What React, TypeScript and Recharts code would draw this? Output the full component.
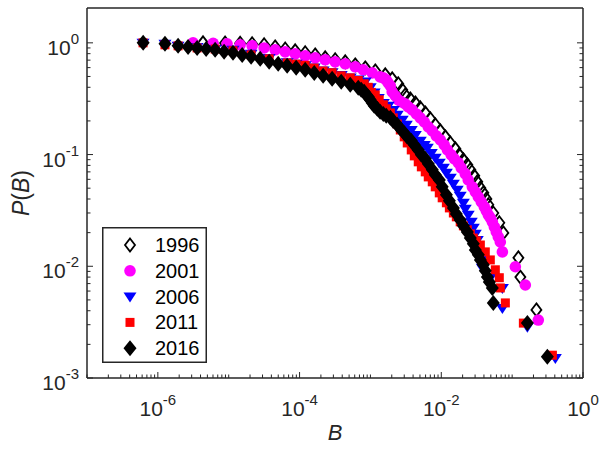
import { ScatterChart, Scatter, XAxis, YAxis, Legend, Label } from 'recharts';

// Complementary cumulative distribution P(B) per year
const B_1996 = [4.34e-6, 8.89e-6, 1.45e-5, 2.14e-5, 3.16e-5, 4.52e-5, 6.27e-5, 8.67e-5, 1.2e-4, 1.66e-4, 2.3e-4, 3.18e-4, 4.41e-4, 6.1e-4, 8.45e-4, 1.17e-3, 1.62e-3, 2.03e-3, 2.47e-3, 2.81e-3, 3.1e-3, 3.65e-3, 4.3e-3, 5.05e-3, 5.94e-3, 7.0e-3, 8.22e-3, 9.68e-3, 1.14e-2, 1.34e-2, 1.58e-2, 1.79e-2, 2.05e-2, 2.33e-2, 2.57e-2, 2.92e-2, 3.22e-2, 3.56e-2, 3.92e-2, 4.33e-2, 4.61e-2, 5.42e-2, 6.59e-2, 7.52e-2, 0.1225, 0.1306, 0.22];
const P_1996 = [1.0, 0.995, 0.99, 0.98, 0.96, 0.92, 0.88, 0.848, 0.814, 0.78, 0.734, 0.705, 0.676, 0.635, 0.597, 0.561, 0.517, 0.476, 0.43, 0.38, 0.342, 0.315, 0.29, 0.262, 0.236, 0.209, 0.185, 0.163, 0.144, 0.127, 0.1125, 0.0994, 0.0897, 0.0809, 0.073, 0.0645, 0.057, 0.0503, 0.0454, 0.0401, 0.0355, 0.03, 0.0245, 0.0199, 0.0119, 0.008, 0.00407];

const B_2001 = [3.14e-6, 6.03e-6, 9.48e-6, 1.45e-5, 2.14e-5, 3.16e-5, 4.52e-5, 6.27e-5, 8.67e-5, 1.2e-4, 1.66e-4, 2.3e-4, 3.18e-4, 4.41e-4, 6.1e-4, 7.91e-4, 1.06e-3, 1.37e-3, 1.52e-3, 1.67e-3, 1.78e-3, 1.91e-3, 2.03e-3, 2.24e-3, 2.47e-3, 2.72e-3, 3.1e-3, 3.42e-3, 3.89e-3, 4.44e-3, 5.05e-3, 5.75e-3, 6.55e-3, 7.46e-3, 8.49e-3, 9.68e-3, 1.1e-2, 1.22e-2, 1.38e-2, 1.53e-2, 1.74e-2, 1.91e-2, 2.18e-2, 2.4e-2, 2.74e-2, 3.02e-2, 3.33e-2, 3.67e-2, 4.05e-2, 4.33e-2, 4.61e-2, 4.92e-2, 5.25e-2, 5.61e-2, 5.98e-2, 6.38e-2, 6.81e-2, 7.28e-2, 0.111, 0.1535, 0.234];
const P_2001 = [1.0, 0.99, 0.98, 0.96, 0.94, 0.9, 0.866, 0.83, 0.797, 0.765, 0.734, 0.705, 0.676, 0.649, 0.61, 0.573, 0.538, 0.496, 0.486, 0.467, 0.438, 0.412, 0.364, 0.336, 0.309, 0.296, 0.284, 0.267, 0.251, 0.231, 0.213, 0.196, 0.177, 0.163, 0.147, 0.1355, 0.122, 0.11, 0.0994, 0.0916, 0.0843, 0.076, 0.0672, 0.0593, 0.0514, 0.0464, 0.0418, 0.0377, 0.034, 0.0313, 0.0289, 0.0271, 0.025, 0.0225, 0.0203, 0.0183, 0.0165, 0.01345, 0.0099, 0.0068, 0.0033];

const B_2006 = [6.18e-7, 1.26e-6, 1.93e-6, 3.58e-6, 6.43e-6, 1.15e-5, 2.07e-5, 3.72e-5, 6.68e-5, 8.95e-5, 1.2e-4, 1.61e-4, 2.15e-4, 2.88e-4, 3.87e-4, 5.19e-4, 6.73e-4, 8.45e-4, 9.93e-4, 1.13e-3, 1.29e-3, 1.52e-3, 1.78e-3, 2.1e-3, 2.39e-3, 2.81e-3, 3.21e-3, 3.77e-3, 4.3e-3, 5.05e-3, 5.75e-3, 6.34e-3, 7.23e-3, 8.22e-3, 9.37e-3, 1.07e-2, 1.18e-2, 1.34e-2, 1.48e-2, 1.68e-2, 1.85e-2, 2.05e-2, 2.18e-2, 2.4e-2, 2.65e-2, 2.83e-2, 3.02e-2, 3.22e-2, 3.56e-2, 3.67e-2, 3.79e-2, 4.92e-2, 7.28e-2, 7.28e-2, 0.164, 0.407];
const P_2006 = [1.0, 0.98, 0.94, 0.92, 0.88, 0.866, 0.8, 0.73, 0.67, 0.65, 0.63, 0.6, 0.565, 0.545, 0.515, 0.49, 0.47, 0.45, 0.4, 0.36, 0.32, 0.29, 0.273, 0.251, 0.227, 0.205, 0.185, 0.166, 0.15, 0.133, 0.122, 0.115, 0.1035, 0.0934, 0.0843, 0.076, 0.0686, 0.0619, 0.0547, 0.0483, 0.0427, 0.037, 0.0327, 0.0289, 0.025, 0.0221, 0.0195, 0.0172, 0.01345, 0.0114, 0.0097, 0.0079, 0.0064, 0.00424, 0.00287, 0.00151];

const B_2011 = [6.18e-7, 1.26e-6, 1.93e-6, 3.58e-6, 6.43e-6, 1.15e-5, 2.07e-5, 3.72e-5, 6.68e-5, 8.95e-5, 1.2e-4, 1.61e-4, 2.15e-4, 2.88e-4, 3.87e-4, 5.19e-4, 6.73e-4, 8.16e-4, 9.31e-4, 1.03e-3, 1.17e-3, 1.33e-3, 1.52e-3, 1.67e-3, 1.91e-3, 2.1e-3, 2.39e-3, 2.64e-3, 3.0e-3, 3.31e-3, 3.77e-3, 4.16e-3, 4.73e-3, 5.23e-3, 5.94e-3, 6.55e-3, 7.46e-3, 8.22e-3, 9.37e-3, 1.03e-2, 1.18e-2, 1.3e-2, 1.48e-2, 1.63e-2, 1.85e-2, 2.05e-2, 2.33e-2, 2.57e-2, 2.83e-2, 3.12e-2, 3.56e-2, 4.18e-2, 4.92e-2, 5.79e-2, 6.59e-2, 6.81e-2, 8.02e-2, 0.144, 0.37];
const P_2011 = [1.0, 0.96, 0.94, 0.9, 0.88, 0.85, 0.78, 0.72, 0.66, 0.645, 0.63, 0.595, 0.56, 0.54, 0.507, 0.486, 0.46, 0.43, 0.4, 0.36, 0.342, 0.309, 0.279, 0.257, 0.236, 0.213, 0.188, 0.166, 0.144, 0.127, 0.11, 0.0973, 0.0861, 0.0776, 0.07, 0.0631, 0.057, 0.0514, 0.0454, 0.041, 0.037, 0.0333, 0.03, 0.0277, 0.025, 0.023, 0.0212, 0.0195, 0.0179, 0.0169, 0.0155, 0.01345, 0.0114, 0.0093, 0.0079, 0.0064, 0.0047, 0.0031, 0.0016];

const B_2016 = [6.2e-7, 1.26e-6, 1.93e-6, 2.67e-6, 3.58e-6, 4.8e-6, 6.43e-6, 8.61e-6, 1.15e-5, 1.55e-5, 2.07e-5, 2.78e-5, 3.72e-5, 4.99e-5, 6.68e-5, 8.95e-5, 1.2e-4, 1.61e-4, 2.15e-4, 2.88e-4, 3.87e-4, 5.19e-4, 6.73e-4, 7.41e-4, 8.16e-4, 8.73e-4, 9.31e-4, 9.93e-4, 1.06e-3, 1.13e-3, 1.25e-3, 1.37e-3, 1.52e-3, 1.67e-3, 1.91e-3, 2.1e-3, 2.39e-3, 2.64e-3, 3.0e-3, 3.31e-3, 3.77e-3, 4.16e-3, 4.73e-3, 5.23e-3, 5.94e-3, 6.55e-3, 7.46e-3, 8.22e-3, 9.37e-3, 1.03e-2, 1.18e-2, 1.3e-2, 1.48e-2, 1.63e-2, 1.85e-2, 2.05e-2, 2.33e-2, 2.57e-2, 2.83e-2, 3.02e-2, 3.33e-2, 3.56e-2, 3.92e-2, 4.18e-2, 4.47e-2, 4.76e-2, 5.25e-2, 5.42e-2, 0.164, 0.314];
const P_2016 = [1.0, 0.98, 0.94, 0.92, 0.9, 0.88, 0.866, 0.83, 0.814, 0.78, 0.75, 0.72, 0.676, 0.649, 0.622, 0.597, 0.573, 0.538, 0.507, 0.476, 0.448, 0.421, 0.396, 0.38, 0.364, 0.342, 0.329, 0.309, 0.29, 0.273, 0.257, 0.241, 0.231, 0.222, 0.213, 0.2, 0.185, 0.17, 0.156, 0.144, 0.133, 0.122, 0.11, 0.0994, 0.0916, 0.0826, 0.073, 0.0658, 0.0593, 0.0514, 0.0436, 0.0385, 0.0333, 0.0294, 0.026, 0.023, 0.0203, 0.0179, 0.0159, 0.014, 0.0127, 0.0114, 0.0103, 0.0091, 0.008, 0.00725, 0.0064, 0.0047, 0.0031, 0.00155];

const YEARS = ['1996', '2001', '2006', '2011', '2016'];

const X_MAJOR = [1e-6, 1e-4, 1e-2, 1];
const X_MAJOR_LABELS = ['-6', '-4', '-2', '0'];
const Y_MAJOR = [1e-3, 1e-2, 1e-1, 1];
const Y_MAJOR_LABELS = ['-3', '-2', '-1', '0'];

const AXIS = '#262626';
const FONT = '"Liberation Sans", Arial, Helvetica, sans-serif';

// log axis ticks: every m * 10^e between the decades
function decadeTicks(lo: number, hi: number) {
  const out: number[] = [];
  for (let e = lo; e < hi; e++) {
    for (let m = 1; m <= 9; m++) out.push(m * Math.pow(10, e));
  }
  out.push(Math.pow(10, hi));
  return out;
}
const X_TICKS = decadeTicks(-7, 0);
const Y_TICKS = decadeTicks(-3, 0);

const majorIndex = (list: number[], v: number) =>
  list.findIndex((m) => Math.abs(m - v) / m < 1e-6);

// marker shapes (MATLAB style)
type Draw = (cx: number, cy: number) => JSX.Element;
const openDiamond: Draw = (cx, cy) => (
  <path d={`M${cx} ${cy - 6.5}L${cx + 5} ${cy}L${cx} ${cy + 6.5}L${cx - 5} ${cy}Z`} fill="none" stroke="#000" strokeWidth={1.8} />
);
const magentaDot: Draw = (cx, cy) => <circle cx={cx} cy={cy} r={5.8} fill="#ff00ff" />;
const blueTriangle: Draw = (cx, cy) => (
  <path d={`M${cx - 6.5} ${cy - 4}L${cx + 6.5} ${cy - 4}L${cx} ${cy + 6}Z`} fill="#0000ff" />
);
const redSquare: Draw = (cx, cy) => <rect x={cx - 4.5} y={cy - 4.5} width={9} height={9} fill="#ff0000" />;
const blackDiamond: Draw = (cx, cy) => (
  <path d={`M${cx} ${cy - 8}L${cx + 6.5} ${cy}L${cx} ${cy + 8}L${cx - 6.5} ${cy}Z`} fill="#000" />
);

const toPoints = (b: number[], p: number[]) => b.map((v, i) => ({ b: v, p: p[i] }));

const SERIES = [
  { name: YEARS[0], data: toPoints(B_1996, P_1996), draw: openDiamond },
  { name: YEARS[1], data: toPoints(B_2001, P_2001), draw: magentaDot },
  { name: YEARS[2], data: toPoints(B_2006, P_2006), draw: blueTriangle },
  { name: YEARS[3], data: toPoints(B_2011, P_2011), draw: redSquare },
  { name: YEARS[4], data: toPoints(B_2016, P_2016), draw: blackDiamond },
];

const BottomTick = ({ x, y, payload }: any) => {
  const k = majorIndex(X_MAJOR, payload.value);
  return (
    <g>
      <line x1={x} y1={y} x2={x} y2={y - (k >= 0 ? 6 : 3.5)} stroke={AXIS} strokeWidth={1} />
      {k >= 0 && (
        <text x={x} y={y + 38} textAnchor="middle" fontSize={21} fill={AXIS}>
          10<tspan dy={-11} fontSize={15}>{X_MAJOR_LABELS[k]}</tspan>
        </text>
      )}
    </g>
  );
};

const TopTick = ({ x, y, payload }: any) => {
  const k = majorIndex(X_MAJOR, payload.value);
  return <line x1={x} y1={y} x2={x} y2={y + (k >= 0 ? 6 : 3.5)} stroke={AXIS} strokeWidth={1} />;
};

const LeftTick = ({ x, y, payload }: any) => {
  const k = majorIndex(Y_MAJOR, payload.value);
  return (
    <g>
      <line x1={x} y1={y} x2={x + (k >= 0 ? 6 : 3.5)} y2={y} stroke={AXIS} strokeWidth={1} />
      {k >= 0 && (
        <text x={x - 8} y={y + 12} textAnchor="end" fontSize={21} fill={AXIS}>
          10<tspan dy={-11} fontSize={15}>{Y_MAJOR_LABELS[k]}</tspan>
        </text>
      )}
    </g>
  );
};

const RightTick = ({ x, y, payload }: any) => {
  const k = majorIndex(Y_MAJOR, payload.value);
  return <line x1={x} y1={y} x2={x - (k >= 0 ? 6 : 3.5)} y2={y} stroke={AXIS} strokeWidth={1} />;
};

const LegendBox = () => (
  <svg width={105} height={136} style={{ display: 'block' }}>
    <rect x={0.75} y={0.75} width={103.5} height={134.5} fill="#fff" stroke={AXIS} strokeWidth={1.5} />
    {SERIES.map((s, i) => {
      const cy = 18 + i * 25.8;
      return (
        <g key={s.name}>
          {s.draw(28, cy)}
          <text x={53} y={cy + 7} fontSize={20} fill="#000" fontFamily={FONT}>
            {s.name}
          </text>
        </g>
      );
    })}
  </svg>
);

export default function App() {
  return (
    <div style={{ position: 'absolute', left: 0, top: 0, width: 600, height: 453, background: '#fff', fontFamily: FONT }}>
      <ScatterChart width={600} height={453} margin={{ top: 7, right: 16, bottom: 0, left: 0 }}>
        <XAxis
          xAxisId="b"
          dataKey="b"
          type="number"
          scale="log"
          domain={[1e-7, 1]}
          allowDataOverflow
          ticks={X_TICKS}
          interval={0}
          height={75}
          tickSize={0}
          tickMargin={0}
          tickLine={false}
          tick={BottomTick}
          axisLine={{ stroke: AXIS, strokeWidth: 1.5 }}
        >
          <Label
            content={({ viewBox }: any) => (
              <text x={viewBox.x + viewBox.width / 2} y={viewBox.y + 62} textAnchor="middle" fontSize={22} fontStyle="italic" fill={AXIS}>
                B
              </text>
            )}
          />
        </XAxis>
        <XAxis
          xAxisId="top"
          orientation="top"
          type="number"
          scale="log"
          domain={[1e-7, 1]}
          allowDataOverflow
          ticks={X_TICKS}
          interval={0}
          height={1}
          tickSize={0}
          tickMargin={0}
          tickLine={false}
          tick={TopTick}
          axisLine={{ stroke: AXIS, strokeWidth: 1.5 }}
        />
        <YAxis
          yAxisId="p"
          dataKey="p"
          type="number"
          scale="log"
          domain={[1e-3, 2.05]}
          allowDataOverflow
          ticks={Y_TICKS}
          interval={0}
          width={87}
          tickSize={0}
          tickMargin={0}
          tickLine={false}
          tick={LeftTick}
          axisLine={{ stroke: AXIS, strokeWidth: 1.5 }}
        >
          <Label
            content={({ viewBox }: any) => {
              const cx = viewBox.x + 21;
              const cy = viewBox.y + viewBox.height / 2;
              return (
                <text x={cx} y={cy} transform={`rotate(-90 ${cx} ${cy})`} textAnchor="middle" dominantBaseline="central" fontSize={23} fill={AXIS}>
                  <tspan fontStyle="italic">P</tspan>(<tspan fontStyle="italic">B</tspan>)
                </text>
              );
            }}
          />
        </YAxis>
        <YAxis
          yAxisId="right"
          orientation="right"
          type="number"
          scale="log"
          domain={[1e-3, 2.05]}
          allowDataOverflow
          ticks={Y_TICKS}
          interval={0}
          width={1}
          tickSize={0}
          tickMargin={0}
          tickLine={false}
          tick={RightTick}
          axisLine={{ stroke: AXIS, strokeWidth: 1.5 }}
        />
        {SERIES.map((s) => (
          <Scatter
            key={s.name}
            name={s.name}
            data={s.data}
            xAxisId="b"
            yAxisId="p"
            isAnimationActive={false}
            shape={(props: any) => s.draw(props.cx, props.cy)}
          />
        ))}
        <Legend
          layout="vertical"
          align="center"
          verticalAlign="middle"
          content={() => <LegendBox />}
          wrapperStyle={{ left: 102, top: 227, width: 105, height: 136 }}
        />
      </ScatterChart>
    </div>
  );
}
